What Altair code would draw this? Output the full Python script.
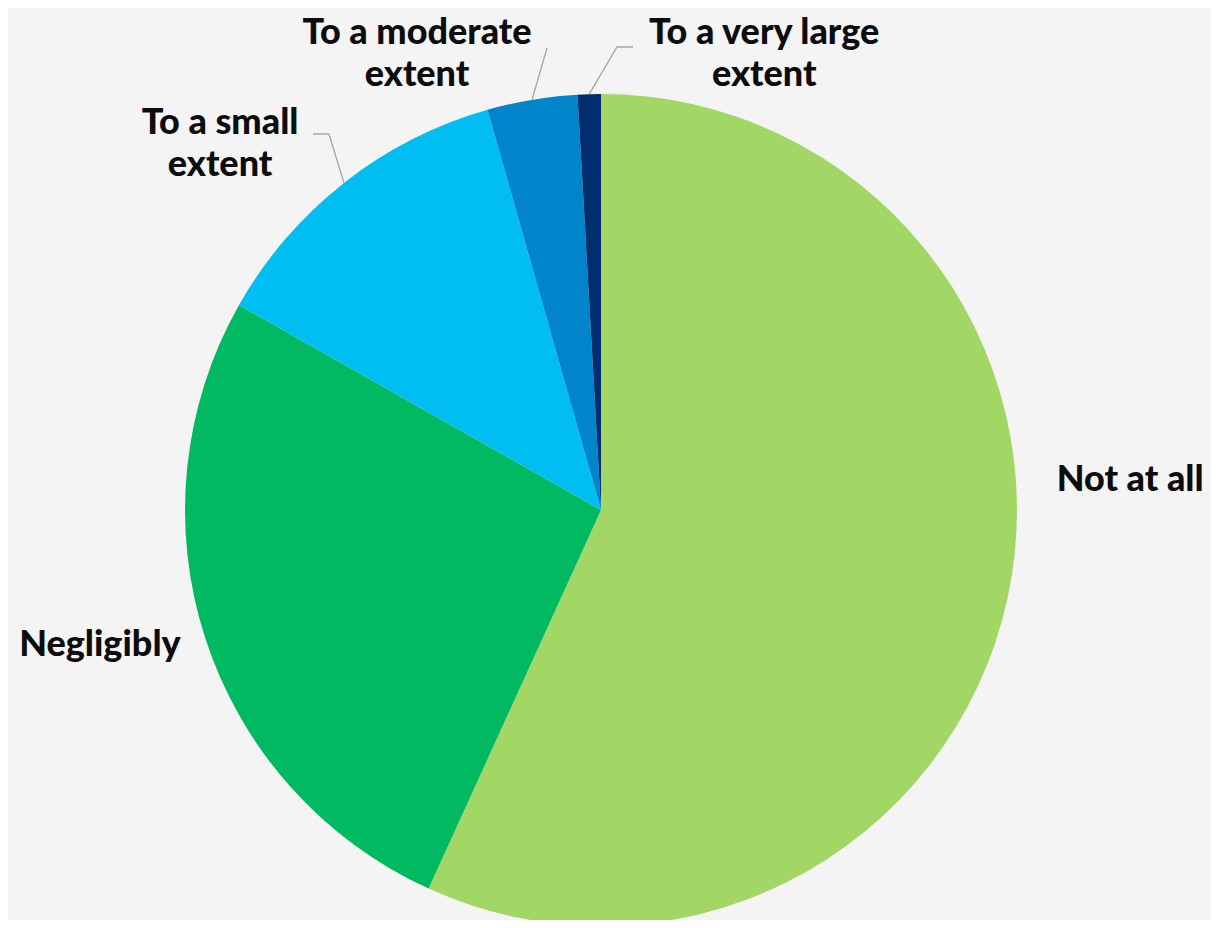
import math
import altair as alt
import pandas as pd

# ---- data ----
categories = ["Not at all", "Negligibly", "To a small extent",
              "To a moderate extent", "To a very large extent"]
values = [56.8, 26.4, 12.4, 3.5, 0.9]
label_text = ["Not at all", "Negligibly", "To a small\nextent",
              "To a moderate\nextent", "To a very large\nextent"]
colors = ["#A2D665", "#00B961", "#00BEF2", "#0085CB", "#002E6E"]

# ---- layout ----
W, H = 1203, 912
CX, CY, R = 593, 502, 416
# position of the first text line (angle clockwise from top, radius from centre)
label_angle_deg = [86.8, 254.9, 315.45, 338.9, 18.9]
label_radius = [530, 519, 543, 511, 504]
# leader lines: extra points (pixel offsets from centre) before reaching the slice edge
leader_points = {
    "To a small extent": [(-288, -376), (-272, -376)],
    "To a moderate extent": [(-54, -462)],
    "To a very large extent": [(32, -463), (16, -463)],
}

total = sum(values)
df = pd.DataFrame({
    "cat": categories,
    "value": values,
    "ord": list(range(len(categories))),
    "text": label_text,
    "lt": [math.radians(a) for a in label_angle_deg],
    "lr": label_radius,
})

rows = []
cum = 0.0
for cat, v in zip(categories, values):
    mid = (cum + v / 2) / total * 2 * math.pi
    cum += v
    if cat in leader_points:
        pts = list(leader_points[cat])
        pts.append((R * math.sin(mid), -R * math.cos(mid)))
        for i, (dx, dy) in enumerate(pts):
            rows.append({"cat": cat, "i": i, "x": CX + dx, "y": CY + dy})
leaders = pd.DataFrame(rows)

color_scale = alt.Scale(domain=categories, range=colors)

shadow_df = pd.DataFrame({"v": [1]})
shadows = [
    alt.Chart(shadow_df).mark_arc(x=CX + 3, y=CY + 5, radius=R + k, color="#000000",
                                  opacity=0.05)
    .encode(theta=alt.Theta("v:Q"))
    for k in (0, 2, 4, 6)
]

pie = alt.Chart(df).mark_arc(x=CX, y=CY, radius=R).encode(
    theta=alt.Theta("value:Q", stack=True),
    color=alt.Color("cat:N", scale=color_scale, legend=None),
    order=alt.Order("ord:Q"),
)

lines = alt.Chart(leaders).mark_line(color="#A6A6A6", strokeWidth=1.3).encode(
    x=alt.X("x:Q", scale=None, axis=None),
    y=alt.Y("y:Q", scale=None, axis=None),
    detail="cat:N",
    order="i:Q",
)

labels = alt.Chart(df).mark_text(
    x=CX, y=CY, font="Lato", fontWeight=900, fontSize=36,
    lineBreak="\n", lineHeight=42, baseline="middle", align="center",
    color="#0D0D0D",
).encode(
    theta=alt.Theta("lt:Q", scale=None, stack=False),
    radius=alt.Radius("lr:Q", scale=None),
    text="text:N",
)

chart = alt.layer(*shadows, pie, lines, labels).properties(
    width=W, height=H, padding=0, autosize="none", background="#F4F4F4"
).configure_view(stroke=None)

chart.save("out.html", embed_options={"renderer": "svg", "actions": False})
